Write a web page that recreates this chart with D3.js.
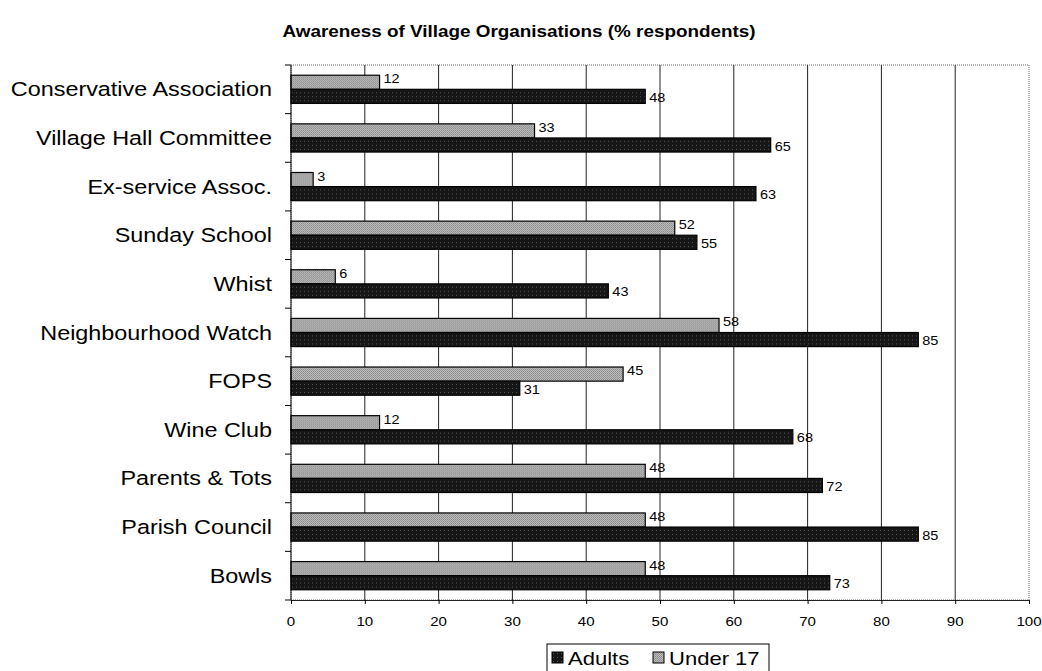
<!DOCTYPE html>
<html>
<head>
<meta charset="utf-8">
<script src="https://cdn.jsdelivr.net/npm/d3@7/dist/d3.min.js"></script>
<style>
  body { margin: 0; background: #fff; }
  text { font-family: Arial, "Liberation Sans", sans-serif; fill: #000; }
</style>
</head>
<body>
<div id="chart"></div>
<script>
// data (top to bottom)
var categories = ["Conservative Association", "Village Hall Committee", "Ex-service Assoc.",
  "Sunday School", "Whist", "Neighbourhood Watch", "FOPS", "Wine Club",
  "Parents & Tots", "Parish Council", "Bowls"];
var under17 = [12, 33, 3, 52, 6, 58, 45, 12, 48, 48, 48];
var adults = [48, 65, 63, 55, 43, 85, 31, 68, 72, 85, 73];
var xTicks = [0, 10, 20, 30, 40, 50, 60, 70, 80, 90, 100];
var seriesNames = ["Adults", "Under 17"];

var W = 1042, H = 671;
var margin = { top: 65, right: 13, bottom: 71, left: 291 };
var width = W - margin.left - margin.right;
var height = H - margin.top - margin.bottom;
var SX = 1.16; // scanned text looks a bit wide

var svg = d3.select("#chart").append("svg")
  .attr("width", W)
  .attr("height", H);

// stipple-ish patterns
var defs = svg.append("defs");
var pDark = defs.append("pattern").attr("id", "pDark")
  .attr("width", 4).attr("height", 4).attr("patternUnits", "userSpaceOnUse");
pDark.append("rect").attr("width", 4).attr("height", 4).attr("fill", "#161616");
pDark.append("rect").attr("x", 1).attr("y", 1).attr("width", 1).attr("height", 1).attr("fill", "#555");
var pLight = defs.append("pattern").attr("id", "pLight")
  .attr("width", 2).attr("height", 2).attr("patternUnits", "userSpaceOnUse");
pLight.append("rect").attr("width", 2).attr("height", 2).attr("fill", "#c0c0c0");
pLight.append("rect").attr("width", 1).attr("height", 1).attr("fill", "#858585");
pLight.append("rect").attr("x", 1).attr("y", 1).attr("width", 1).attr("height", 1).attr("fill", "#959595");

function place(xp, yp, sx) {
  return "translate(" + xp + "," + yp + ") scale(" + (sx || SX) + ",1)";
}

svg.append("text")
  .attr("transform", place(519, 37, 1.18))
  .attr("text-anchor", "middle")
  .style("font-size", "16px")
  .style("font-weight", "bold")
  .text("Awareness of Village Organisations (% respondents)");

var g = svg.append("g")
  .attr("transform", "translate(" + margin.left + "," + margin.top + ")");

var x = d3.scaleLinear().domain([0, 100]).range([0, width]);
var y = d3.scaleBand().domain(categories).range([0, height]).paddingInner(0.42).paddingOuter(0.21);
var ySeries = d3.scaleBand().domain(["Under 17", "Adults"]).range([0, y.bandwidth()]);

// plot border (dotted)
g.append("rect")
  .attr("width", width).attr("height", height)
  .attr("fill", "none")
  .attr("stroke", "#666")
  .attr("stroke-dasharray", "1,1");

// grid lines
g.selectAll(".grid")
  .data(xTicks.filter(function(d) { return d > 0 && d < 100; }))
  .enter().append("line")
  .attr("class", "grid")
  .attr("x1", function(d) { return x(d); })
  .attr("x2", function(d) { return x(d); })
  .attr("y1", 0).attr("y2", height)
  .attr("stroke", "#222")
  .attr("stroke-width", 1);

// bars
var rows = g.selectAll(".row")
  .data(categories)
  .enter().append("g")
  .attr("class", "row")
  .attr("transform", function(d) { return "translate(0," + y(d) + ")"; });

rows.append("rect")
  .attr("x", 0)
  .attr("y", ySeries("Under 17"))
  .attr("width", function(d, i) { return x(under17[i]); })
  .attr("height", ySeries.bandwidth())
  .attr("fill", "url(#pLight)")
  .attr("stroke", "#000")
  .attr("stroke-width", 1.2);

rows.append("rect")
  .attr("x", 0)
  .attr("y", ySeries("Adults"))
  .attr("width", function(d, i) { return x(adults[i]); })
  .attr("height", ySeries.bandwidth())
  .attr("fill", "url(#pDark)")
  .attr("stroke", "#000")
  .attr("stroke-width", 1.2);

rows.append("text")
  .attr("transform", function(d, i) {
    return place(x(under17[i]) + 4, ySeries("Under 17") + ySeries.bandwidth() / 2 + 1);
  })
  .style("font-size", "12.5px")
  .text(function(d, i) { return under17[i]; });

rows.append("text")
  .attr("transform", function(d, i) {
    return place(x(adults[i]) + 4, ySeries("Adults") + ySeries.bandwidth() / 2 + 5.5);
  })
  .style("font-size", "12.5px")
  .text(function(d, i) { return adults[i]; });

// y axis
g.append("line")
  .attr("x1", 0).attr("x2", 0).attr("y1", 0).attr("y2", height)
  .attr("stroke", "#000");
var step = height / categories.length;
g.selectAll(".ytick")
  .data(d3.range(categories.length + 1))
  .enter().append("line")
  .attr("class", "ytick")
  .attr("x1", -6).attr("x2", 0)
  .attr("y1", function(d) { return d * step; })
  .attr("y2", function(d) { return d * step; })
  .attr("stroke", "#000");

g.selectAll(".ylabel")
  .data(categories)
  .enter().append("text")
  .attr("class", "ylabel")
  .attr("transform", function(d) { return place(-19, y(d) + y.bandwidth() / 2 + 7, 1.2); })
  .attr("text-anchor", "end")
  .style("font-size", "19.5px")
  .text(function(d) { return d; });

// x axis
var xAxis = d3.axisBottom(x).tickValues(xTicks).tickSize(4).tickPadding(0).tickFormat("");
var xg = g.append("g")
  .attr("transform", "translate(0," + height + ")")
  .call(xAxis);
xg.select(".domain").attr("stroke", "#222");
g.selectAll(".xlabel")
  .data(xTicks)
  .enter().append("text")
  .attr("class", "xlabel")
  .attr("transform", function(d) { return place(x(d), height + 26); })
  .attr("text-anchor", "middle")
  .style("font-size", "13px")
  .text(function(d) { return d; });

// legend
var leg = svg.append("g").attr("transform", "translate(547,644)");
leg.append("rect")
  .attr("width", 222).attr("height", 34)
  .attr("fill", "#fff").attr("stroke", "#000");
var items = leg.selectAll(".item")
  .data(seriesNames)
  .enter().append("g")
  .attr("transform", function(d, i) { return "translate(" + (5 + i * 101) + ",0)"; });
items.append("rect")
  .attr("y", 8).attr("width", 11).attr("height", 11)
  .attr("fill", function(d) { return d === "Adults" ? "url(#pDark)" : "url(#pLight)"; })
  .attr("stroke", "#000");
items.append("text")
  .attr("transform", place(16, 21))
  .style("font-size", "19px")
  .text(function(d) { return d; });
</script>
</body>
</html>
